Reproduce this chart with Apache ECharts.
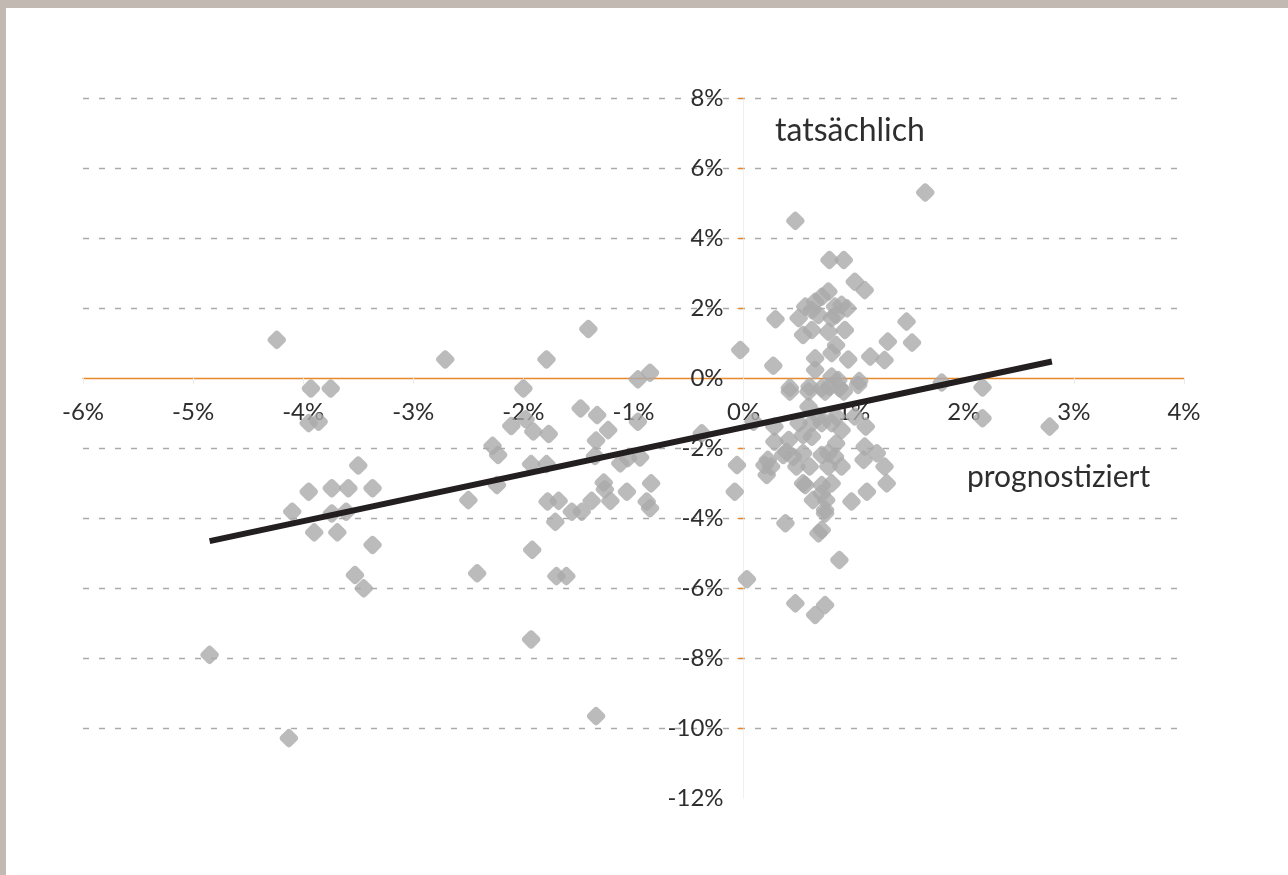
<!DOCTYPE html>
<html>
<head>
<meta charset="utf-8">
<script src="https://cdn.jsdelivr.net/npm/echarts@6/dist/echarts.min.js"></script>
<style>
  html, body { margin: 0; padding: 0; background: #ffffff; }
  #chart { position: absolute; left: 0; top: 0; width: 1288px; height: 875px; }
  .frame-top { position: absolute; left: 0; top: 0; width: 1288px; height: 8px; background: #c2b9b3; }
  .frame-left { position: absolute; left: 0; top: 0; width: 6px; height: 875px; background: #c2b9b3; }
</style>
</head>
<body>
<div id="chart"></div>
<div class="frame-top"></div>
<div class="frame-left"></div>
<script>
// Forecast (x, in %) and actual outcome (y, in %) for each observation
const prognostiziert = [
  -4.85, -4.24, -4.13, -4.10, -3.93, -3.75, -3.95, -3.86, -3.95, -3.90,
  -3.74, -3.74, -3.69, -3.59, -3.61, -3.50, -3.53, -3.45, -3.37, -3.37,
  -2.71, -2.50, -2.42, -2.28, -2.23, -2.24, -2.11, -2.00, -1.98, -1.93,
  -1.92, -1.93, -1.91, -1.79, -1.79, -1.77, -1.78, -1.71, -1.70, -1.68,
  -1.61, -1.56, -1.48, -1.47, -1.41, -1.38, -1.35, -1.34, -1.34, -1.33,
  -1.27, -1.26, -1.23, -1.21, -1.12, -1.06, -1.05, -0.96, -0.96, -0.94,
  -0.88, -0.85, -0.85, -0.84, -0.38,
  -0.03, -0.06, -0.08, 0.03, 0.09,
  0.19, 0.21, 0.25, 0.22, 0.27, 0.28, 0.28, 0.29, 0.38, 0.41,
  0.39, 0.36, 0.45, 0.42, 0.42, 0.47, 0.47, 0.48, 0.50, 0.50,
  0.54, 0.54, 0.54, 0.54, 0.56, 0.56, 0.59, 0.59, 0.60, 0.60,
  0.62, 0.62, 0.62, 0.62, 0.63, 0.65, 0.65, 0.65, 0.65, 0.68,
  0.68, 0.68, 0.71, 0.71, 0.71, 0.71, 0.71, 0.71, 0.71, 0.74,
  0.74, 0.74, 0.74, 0.75, 0.77, 0.77, 0.77, 0.77, 0.78, 0.78,
  0.80, 0.80, 0.80, 0.80, 0.80, 0.83, 0.83, 0.84, 0.84, 0.84,
  0.84, 0.86, 0.87, 0.87, 0.89, 0.89, 0.89, 0.91, 0.91, 0.92,
  0.94, 0.95, 0.98, 1.01, 1.01, 1.04, 1.05, 1.09, 1.10, 1.10,
  1.11, 1.12, 1.15, 1.21, 1.28, 1.28, 1.30, 1.31, 1.48, 1.53,
  1.65, 1.80, 2.17, 2.17, 2.78
];
const tatsaechlich = [
  -7.91, 1.09, -10.29, -3.82, -0.30, -0.30, -1.29, -1.25, -3.25, -4.41,
  -3.15, -3.87, -4.41, -3.15, -3.82, -2.50, -5.63, -6.01, -3.15, -4.77,
  0.53, -3.49, -5.58, -1.94, -2.20, -3.06, -1.37, -0.30, -1.18, -2.46,
  -4.91, -7.47, -1.53, 0.53, -2.46, -1.60, -3.53, -4.11, -5.66, -3.51,
  -5.66, -3.82, -0.87, -3.82, 1.40, -3.51, -2.23, -1.79, -9.66, -1.06,
  -2.99, -3.18, -1.49, -3.51, -2.44, -3.25, -2.29, -0.04, -1.25, -2.27,
  -3.53, 0.15, -3.72, -3.01, -1.58,
  0.80, -2.49, -3.25, -5.75, -1.25,
  -2.49, -2.77, -2.53, -2.34, 0.35, -1.82, -1.39, 1.68, -4.15, -1.77,
  -2.11, -2.20, -2.25, -0.28, -0.39, 4.49, -6.44, -2.53, 1.71, -1.29,
  1.23, -1.63, -2.15, -3.01, 2.04, -3.06, -0.82, -0.39, -0.25, -2.53,
  1.94, 1.37, -1.29, -1.68, -3.49, 2.18, 0.56, 0.23, -6.77, 1.80,
  -1.10, -4.44, 2.32, -0.29, -1.29, -2.20, -3.06, -3.30, -4.34, -0.39,
  -3.77, -3.87, -6.49, -3.49, 2.47, 1.32, -2.15, -2.53, 3.37, -0.25,
  1.71, 0.71, 0.04, -1.29, -3.01, 2.04, -2.25, 1.80, 0.94, -1.10,
  -1.87, -0.06, -0.29, -5.20, 2.09, -1.49, -2.53, 3.37, -0.39, 1.37,
  1.99, 0.53, -3.53, 2.75, -1.10, -0.20, -0.09, -2.34, 2.51, -1.96,
  -1.39, -3.25, 0.61, -2.15, 0.51, -2.53, -3.01, 1.04, 1.61, 1.01,
  5.30, -0.13, -0.27, -1.15, -1.39
];

// Linear trend line, drawn between its two end values
const trendStart = [-4.85, -4.66];
const trendEnd = [2.80, 0.47];

// Axis ranges and tick spacing (in %)
const xRange = [-6, 4, 1];
const yRange = [-12, 8, 2];
// Values that get an orange tick mark and a dashed gridline on the vertical axis
const yTickMarks = [-10, -8, -6, -4, -2, 2, 4, 6, 8];

const labelFont = 'Lato';
const textColor = '#2e2e2e';
const accent = '#e8892b';

const points = prognostiziert.map((x, i) => [x, tatsaechlich[i]]);

// Plot area
const W = 1288, H = 875;
const grid = { left: 83, right: 104, top: 98, bottom: 77 };
const plotW = W - grid.left - grid.right;
const plotH = H - grid.top - grid.bottom;

// Both axes cross at zero: shift them in from the grid edges
const xAxisOffset = -plotH * (0 - yRange[0]) / (yRange[1] - yRange[0]);
const yAxisOffset = -plotW * (0 - xRange[0]) / (xRange[1] - xRange[0]);

const chart = echarts.init(document.getElementById('chart'), null, { renderer: 'canvas' });

chart.setOption({
  animation: false,
  backgroundColor: 'transparent',
  grid: Object.assign({ containLabel: false, outerBoundsMode: 'none' }, grid),
  xAxis: {
    type: 'value',
    position: 'bottom',
    offset: xAxisOffset,
    min: xRange[0], max: xRange[1], interval: xRange[2],
    axisLine: { onZero: false, lineStyle: { color: accent, width: 1.3 } },
    axisTick: { show: true, length: 6, lineStyle: { color: '#ececec' } },
    axisLabel: {
      margin: 22,
      fontFamily: labelFont, fontSize: 24, color: textColor,
      formatter: v => v + '%'
    },
    splitLine: { show: false }
  },
  yAxis: {
    type: 'value',
    position: 'left',
    offset: yAxisOffset,
    min: yRange[0], max: yRange[1], interval: yRange[2],
    axisLine: { onZero: false, lineStyle: { color: '#f0f0f0', width: 1 } },
    axisTick: { show: true, length: 6, customValues: yTickMarks, lineStyle: { color: accent, width: 1.3 } },
    axisLabel: {
      margin: 20,
      fontFamily: labelFont, fontSize: 24, color: textColor,
      formatter: v => v + '%'
    },
    splitLine: {
      show: true,
      lineStyle: { color: '#aaaaaa', type: [6, 10], width: 1.3 }
    }
  },
  series: [
    {
      type: 'scatter',
      data: points,
      symbol: 'roundRect',
      symbolRotate: 45,
      symbolSize: 15,
      itemStyle: { color: '#aaaaaa' },
      z: 2
    },
    {
      type: 'line',
      data: [trendStart, trendEnd],
      showSymbol: false,
      symbol: 'none',
      lineStyle: { color: '#231f20', width: 6 },
      z: 3
    }
  ],
  graphic: [
    {
      type: 'text', left: 775, top: 115, z: 10,
      style: { text: 'tatsächlich', font: '32px Lato', fill: textColor }
    },
    {
      type: 'text', left: 967, top: 462, z: 10,
      style: { text: 'prognostiziert', font: '30px Lato', fill: textColor }
    }
  ]
});
</script>
</body>
</html>
